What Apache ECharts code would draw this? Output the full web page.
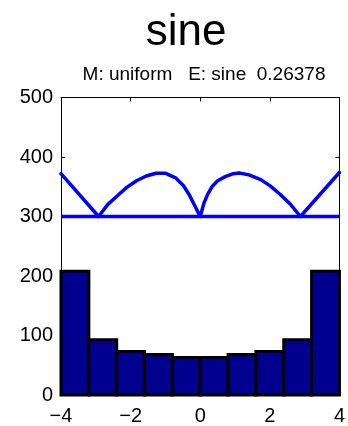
<!DOCTYPE html>
<html>
<head>
<meta charset="utf-8">
<script src="https://cdn.jsdelivr.net/npm/echarts@6/dist/echarts.min.js"></script>
<style>
html,body{margin:0;padding:0;background:#fff;}
#chart{width:348px;height:426px;}
</style>
</head>
<body>
<div id="chart"></div>
<script>
// ---- data ----
var titleText = 'sine';
var subtitleText = 'M: uniform   E: sine  0.26378';
var binEdges = [-4, -3.2, -2.4, -1.6, -0.8, 0, 0.8, 1.6, 2.4, 3.2, 4];
var binCounts = [208, 93, 73, 68, 63, 63, 68, 73, 93, 208];
var curveX = [-4, -2.92, -2.66, -2.38, -2.11, -1.83, -1.55, -1.27, -0.99, -0.71, -0.48, -0.30, -0.16, 0,
              0.11, 0.22, 0.35, 0.5, 0.72, 0.95, 1.12, 1.4, 1.74, 2.02, 2.3, 2.6, 2.88, 4];
var curveY = [372, 300, 320, 335, 349, 360, 368, 372.6, 372.6, 365, 351.6, 335, 318.6, 300,
              323, 338, 351, 360, 367, 372, 373, 370, 362, 351, 337, 320, 300, 374];
var baseX = [-4, 4];
var baseY = [300, 300];
var xTicks = [-4, -2, 0, 2, 4];
var yTicks = [0, 100, 200, 300, 400, 500];

var FONT = '"Liberation Sans", Arial, Helvetica, sans-serif';
var chart = echarts.init(document.getElementById('chart'), null, {renderer: 'canvas'});

var histData = binCounts.map(function (c, i) { return [binEdges[i], binEdges[i + 1], c]; });
var baseData = baseX.map(function (x, i) { return [x, baseY[i]]; });
var curveData = curveX.map(function (x, i) { return [x, curveY[i]]; });

function fmt(v) { return String(v).replace('-', '\u2212'); }

function axisCommon() {
  return {
    axisLine: {show: true, onZero: false, lineStyle: {color: '#000', width: 1}},
    axisTick: {show: true, inside: true, length: 4, lineStyle: {color: '#000', width: 1}},
    splitLine: {show: false}
  };
}

var option = {
  animation: false,
  backgroundColor: '#fff',
  grid: {left: 61, top: 97.5, width: 287, height: 298.5, show: false, containLabel: false},
  xAxis: [
    Object.assign(axisCommon(), {
      type: 'value', min: xTicks[0], max: xTicks[xTicks.length - 1], interval: 2, position: 'bottom',
      axisLabel: {show: true, formatter: fmt, fontSize: 20, fontFamily: FONT, color: '#000', margin: 11, showMinLabel: true, showMaxLabel: true}
    }),
    Object.assign(axisCommon(), {
      type: 'value', min: xTicks[0], max: xTicks[xTicks.length - 1], interval: 2, position: 'top',
      axisLabel: {show: false}
    })
  ],
  yAxis: [
    Object.assign(axisCommon(), {
      type: 'value', min: yTicks[0], max: yTicks[yTicks.length - 1], interval: 100, position: 'left',
      axisLabel: {show: true, fontSize: 20, fontFamily: FONT, color: '#000', margin: 8, showMinLabel: true, showMaxLabel: true}
    }),
    Object.assign(axisCommon(), {
      type: 'value', min: yTicks[0], max: yTicks[yTicks.length - 1], interval: 100, position: 'right',
      axisLabel: {show: false}
    })
  ],
  graphic: [
    {type: 'text', x: 186, y: 32.4, style: {text: titleText, font: '44px ' + FONT, fill: '#000', align: 'center', verticalAlign: 'middle'}},
    {type: 'text', x: 204, y: 75, style: {text: subtitleText, font: '19px ' + FONT, fill: '#000', align: 'center', verticalAlign: 'middle'}}
  ],
  series: [
    {
      type: 'custom', xAxisIndex: 0, yAxisIndex: 0,
      data: histData,
      encode: {x: [0, 1], y: 2},
      renderItem: function (params, api) {
        var p0 = api.coord([api.value(0), api.value(2)]);
        var p1 = api.coord([api.value(1), 0]);
        return {
          type: 'rect',
          shape: {x: p0[0], y: p0[1], width: p1[0] - p0[0], height: p1[1] - p0[1]},
          style: {fill: '#00008F', stroke: '#000', lineWidth: 3}
        };
      },
      z: 2
    },
    {
      type: 'line', xAxisIndex: 0, yAxisIndex: 0, data: baseData, showSymbol: false, symbol: 'none',
      lineStyle: {color: '#0000FF', width: 3.5}, z: 3
    },
    {
      type: 'line', xAxisIndex: 0, yAxisIndex: 0, data: curveData, showSymbol: false, symbol: 'none',
      smooth: false,
      lineStyle: {color: '#0000FF', width: 3.5, cap: 'round', join: 'round'}, z: 3
    }
  ]
};
chart.setOption(option);
</script>
</body>
</html>
